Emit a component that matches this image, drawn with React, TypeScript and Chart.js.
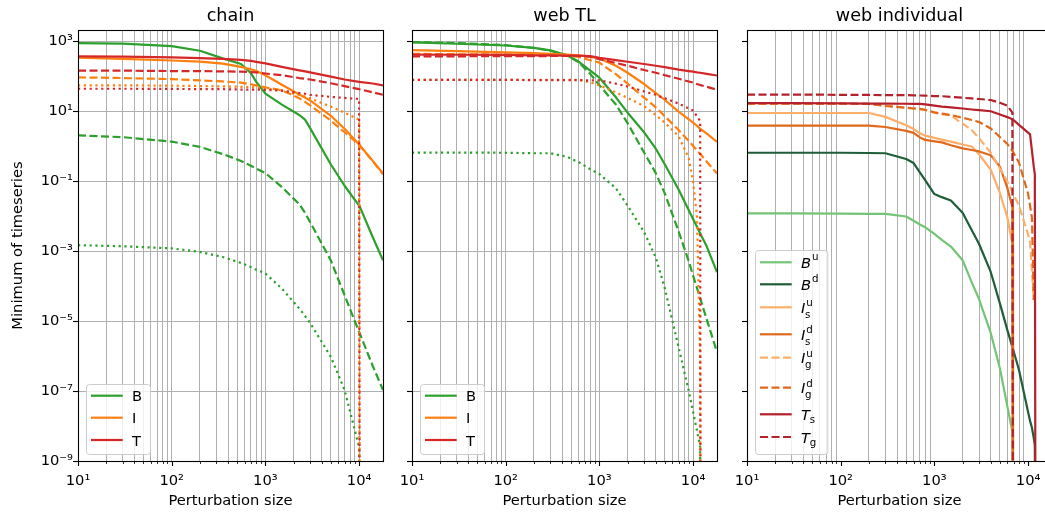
import React, { useEffect, useRef } from 'react';
import { Chart, registerables } from 'chart.js';

Chart.register(...registerables);

const FONT_FAMILY = '"DejaVu Sans", "Liberation Sans", sans-serif';

// ---------------- axes / tick labels ----------------
const X_MIN = 10;
const X_MAX = 18000;
const Y_MIN = 1e-9;
const Y_MAX = 2100;
const xMajorTicks = [10, 100, 1000, 10000];
const xTickLabels = ['10¹', '10²', '10³', '10⁴'];
const xMinorTicks = [20, 30, 40, 50, 60, 70, 80, 90, 200, 300, 400, 500, 600, 700, 800, 900, 2000, 3000, 4000, 5000, 6000, 7000, 8000, 9000];
const yMajorTicks = [1e-9, 1e-7, 1e-5, 1e-3, 1e-1, 1e1, 1e3];
const yTickLabels = ['10⁻⁹', '10⁻⁷', '10⁻⁵', '10⁻³', '10⁻¹', '10¹', '10³'];
const panelTitles = ['chain', 'web TL', 'web individual'];
const xAxisTitle = 'Perturbation size';
const yAxisTitle = 'Minimum of timeseries';

// ---------------- panel 1: chain ----------------
const chainX = [10, 30, 100, 200, 350, 550, 700, 800, 1000, 1500, 2300, 2650, 3000, 5000, 7000, 10000, 10150, 14000, 18000];
const chainBSolid = [891, 861, 724, 537, 324, 224, 123, 69, 32, 15.5, 7.8, 5.75, 3.3, 0.30, 0.074, 0.020, 0.019, 0.0025, 0.00055];
const chainBDashed = [2.04, 1.82, 1.35, 0.955, 0.60, 0.38, 0.275, 0.229, 0.17, 0.068, 0.022, 0.0125, 0.0068, 5.4e-4, 5.5e-5, 4.9e-6, 4.5e-6, 5.2e-7, 1.07e-7];
const chainBDotted = [1.48e-3, 1.38e-3, 1.2e-3, 9.5e-4, 6.8e-4, 4.6e-4, 3.5e-4, 2.95e-4, 2.3e-4, 8.5e-5, 2.3e-5, 1.4e-5, 8.9e-6, 9.5e-7, 1.07e-7, 2.5e-9, 1e-12, null, null];
const chainISolid = [339, 316, 282, 263, 229, 186, 158, 141, 107, 57.5, 30.2, 24.5, 20.4, 7.41, 3.16, 1.12, 1.07, 0.38, 0.166];
const chainIDashed = [93, 89, 83, 76, 71, 66, 59, 55, 48, 40, 23.4, 18.6, 14.8, 5.37, 2.51, 1.10, 1.05, 0.37, 0.158];
const chainIDotted = [55, 55, 54, 52.5, 51.3, 50, 49, 47.9, 45.7, 38.9, 29.5, 26.3, 23.4, 13.5, 9.1, 5.75, 1e-12, null, null];
const chainTSolid = [372, 363, 347, 331, 316, 295, 275, 257, 234, 186, 148, 138, 129, 98, 81, 69, 69, 62, 55];
const chainTDashed = [145, 145, 141, 141, 138, 135, 132, 129, 120, 107, 89, 85, 81, 63, 52.5, 42.7, 42.5, 34.7, 29.5];
const chainTDotted = [44, 44, 43.6, 42.7, 42.7, 41.7, 41.7, 41.7, 40.7, 38.9, 33.1, 31.6, 29.5, 25.7, 24, 22.4, 1e-12, null, null];

// ---------------- panel 2: web TL ----------------
const webX = [10, 30, 100, 200, 300, 450, 600, 800, 1000, 1500, 2000, 3000, 4000, 5000, 7000, 9000, 10000, 11000, 11900, 12000, 14000, 18000];
const webBSolid = [933, 851, 759, 646, 550, 398, 263, 145, 91, 25, 9.1, 2.5, 0.85, 0.30, 0.058, 0.0148, 0.0083, 0.0050, 0.0032, 0.0031, 0.00135, 0.00025];
const webBDashed = [955, 891, 776, 646, 537, 398, 251, 117, 56, 15.5, 4.57, 0.66, 0.17, 0.044, 0.0037, 5.1e-4, 2.0e-4, 8.9e-5, 4.5e-5, 4.2e-5, 1.1e-5, 1.3e-6];
const webBDotted = [0.66, 0.66, 0.65, 0.63, 0.63, 0.50, 0.35, 0.22, 0.16, 0.063, 0.020, 0.0035, 6.6e-4, 8.5e-5, 1.8e-6, 1.0e-7, 2.5e-8, 7.4e-9, 2.5e-9, 1e-12, null, null];
const webISolid = [562, 525, 479, 457, 437, 417, 398, 355, 324, 200, 126, 60, 33, 21, 9.8, 5.9, 4.7, 3.8, 3.16, 3.16, 2.29, 1.32];
const webIDashed = [437, 427, 417, 407, 407, 398, 355, 288, 245, 115, 62, 24.5, 12.9, 7.2, 2.9, 1.41, 1.02, 0.76, 0.60, 0.59, 0.36, 0.166];
const webIDotted = [79, 79, 79, 79, 79, 79, 79, 66, 55, 34.7, 24, 14.1, 7.8, 4.7, 1.95, 0.45, 0.095, 0.01, 8e-7, 1e-12, null, null];
const webTSolid = [417, 412, 407, 398, 394, 389, 389, 380, 339, 288, 260, 224, 200, 182, 155, 141, 135, 129, 126, 126, 117, 105];
const webTDashed = [372, 372, 376, 376, 380, 380, 380, 363, 309, 240, 200, 151, 126, 107, 85, 71, 66, 60, 56, 56, 50, 41];
const webTDotted = [79, 79, 79, 77.6, 77.6, 77.6, 77.6, 76, 76, 61.7, 51, 37, 29.5, 23.4, 16.6, 12, 10.5, 7.2, 5.25, 1e-12, null, null];

// ---------------- panel 3: web individual ----------------
const indX = [10, 30, 100, 200, 300, 500, 600, 700, 800, 1000, 1200, 1500, 2000, 2500, 3000, 4000, 5000, 6000, 6800, 6900, 8000, 10000, 10500, 11000, 11500, 11800, 12000];
const indBu = [0.012, 0.012, 0.0118, 0.0117, 0.0116, 0.0098, 0.0074, 0.0058, 0.0048, 0.0031, 0.0021, 0.00135, 5.5e-4, 1.3e-4, 4.2e-5, 4.5e-6, 4.5e-7, 3.7e-8, 6.8e-9, 1e-12, null, null, null, null, null, null, null];
const indBd = [0.65, 0.65, 0.65, 0.64, 0.63, 0.43, 0.33, 0.18, 0.105, 0.043, 0.035, 0.028, 0.0126, 0.004, 0.0016, 2.5e-4, 3.2e-5, 5.6e-6, 1.8e-6, 1.6e-6, 4e-7, 2.5e-8, 1.4e-8, 8.9e-9, 4.5e-9, 2.8e-9, 1e-12];
const indIsu = [8.9, 8.9, 8.9, 8.9, 6.9, 4.0, 3.1, 2.34, 2.0, 1.74, 1.55, 1.35, 1.12, 0.98, 0.59, 0.21, 0.046, 0.0095, 0.0016, 1e-12, null, null, null, null, null, null, null];
const indIsd = [3.9, 3.9, 3.9, 3.9, 3.55, 2.75, 2.4, 1.78, 1.51, 1.38, 1.29, 1.07, 0.87, 0.78, 0.71, 0.55, 0.26, 0.065, 0.018, 1e-12, null, null, null, null, null, null, null];
const indIgu = [16.6, 16.6, 16.6, 16.2, 14.5, 12.6, 12, 11.5, 10.7, 9.1, 8.3, 7.6, 4.4, 2.9, 1.7, 0.65, 0.23, 0.098, 0.05, 0.045, 0.02, 0.003, 0.0018, 2.8e-4, 4e-5, null, null];
const indIgd = [16.6, 16.6, 16.6, 16.2, 14.1, 12.6, 12, 11.7, 11, 9.3, 8.5, 7.8, 6.5, 5.6, 4.9, 3.2, 1.84, 1.17, 0.74, 0.69, 0.34, 0.044, 0.02, 0.0089, 4e-5, null, null];
const indTs = [17, 17, 16.8, 16.6, 16.6, 16.4, 16.2, 16.2, 15.8, 14.5, 13.5, 12.9, 12, 11.2, 10.7, 10, 8.1, 6.8, 5.9, 5.75, 4.07, 2.45, 2.19, 0.74, 0.26, 0.16, 1e-12];
const indTg = [30, 30, 29.5, 29.2, 29, 28.8, 28.5, 28.2, 27.9, 27.2, 26.9, 25.7, 24.3, 23.2, 22.4, 20.9, 17.4, 14.5, 9.1, 1e-12, null, null, null, null, null, null, null];

// ---------------- styles ----------------
const GREEN = '#2ca02c';
const ORANGE = '#ff7f0e';
const RED = '#d62728';
const C_BU = '#74c476';
const C_BD = '#1f5e38';
const C_ISU = '#fdae6b';
const C_ISD = '#e0691c';
const C_T = '#b5202a';
const SOLID: number[] = [];
const DASHED = [8, 3.5];
const DOTTED = [2.2, 3.6];
const LINE_W = 2.2;

const simpleLegend = [
  { base: 'B', color: GREEN, dash: SOLID },
  { base: 'I', color: ORANGE, dash: SOLID },
  { base: 'T', color: RED, dash: SOLID },
];
const simpleLegendRows = [11.7, 33.7, 56];

const richLegend = [
  { base: 'B', sup: 'u', color: C_BU, dash: SOLID },
  { base: 'B', sup: 'd', color: C_BD, dash: SOLID },
  { base: 'I', sub: 's', sup: 'u', color: C_ISU, dash: SOLID },
  { base: 'I', sub: 's', sup: 'd', color: C_ISD, dash: SOLID },
  { base: 'I', sub: 'g', sup: 'u', color: C_ISU, dash: DASHED },
  { base: 'I', sub: 'g', sup: 'd', color: C_ISD, dash: DASHED },
  { base: 'T', sub: 's', color: C_T, dash: SOLID },
  { base: 'T', sub: 'g', color: C_T, dash: DASHED },
];
const richLegendRows = [12.3, 34.3, 57.3, 84.3, 107.7, 137.7, 164.3, 187];

const PANELS = [
  {
    key: 'chain', title: panelTitles[0], left: 0, width: 400, yAxisWidth: 78, rightPad: 17,
    showYLabels: true, gridMode: 'both', x: chainX,
    legend: { entries: simpleLegend, rows: simpleLegendRows, w: 64, h: 70, rich: false },
    series: [
      { values: chainBSolid, color: GREEN, dash: SOLID },
      { values: chainBDashed, color: GREEN, dash: DASHED },
      { values: chainBDotted, color: GREEN, dash: DOTTED },
      { values: chainISolid, color: ORANGE, dash: SOLID },
      { values: chainIDashed, color: ORANGE, dash: DASHED },
      { values: chainIDotted, color: ORANGE, dash: DOTTED },
      { values: chainTSolid, color: RED, dash: SOLID },
      { values: chainTDashed, color: RED, dash: DASHED },
      { values: chainTDotted, color: RED, dash: DOTTED },
    ],
  },
  {
    key: 'web', title: panelTitles[1], left: 385, width: 345, yAxisWidth: 27, rightPad: 13,
    showYLabels: false, gridMode: 'both', x: webX,
    legend: { entries: simpleLegend, rows: simpleLegendRows, w: 64, h: 70, rich: false },
    series: [
      { values: webBSolid, color: GREEN, dash: SOLID },
      { values: webBDashed, color: GREEN, dash: DASHED },
      { values: webBDotted, color: GREEN, dash: DOTTED },
      { values: webISolid, color: ORANGE, dash: SOLID },
      { values: webIDashed, color: ORANGE, dash: DASHED },
      { values: webIDotted, color: ORANGE, dash: DOTTED },
      { values: webTSolid, color: RED, dash: SOLID },
      { values: webTDashed, color: RED, dash: DASHED },
      { values: webTDotted, color: RED, dash: DOTTED },
    ],
  },
  {
    key: 'ind', title: panelTitles[2], left: 720, width: 350, yAxisWidth: 27, rightPad: 18,
    showYLabels: false, gridMode: 'minorX', x: indX,
    legend: { entries: richLegend, rows: richLegendRows, w: 72.3, h: 204, rich: true },
    series: [
      { values: indBu, color: C_BU, dash: SOLID },
      { values: indBd, color: C_BD, dash: SOLID },
      { values: indIsu, color: C_ISU, dash: SOLID },
      { values: indIsd, color: C_ISD, dash: SOLID },
      { values: indIgu, color: C_ISU, dash: DASHED },
      { values: indIgd, color: C_ISD, dash: DASHED },
      { values: indTs, color: C_T, dash: SOLID },
      { values: indTg, color: C_T, dash: DASHED },
    ],
  },
];

const isDecade = (v: number) => Math.abs(Math.log10(v) - Math.round(Math.log10(v))) < 1e-9;

function roundRectPath(ctx: any, x: number, y: number, w: number, h: number, r: number) {
  ctx.beginPath();
  ctx.moveTo(x + r, y);
  ctx.lineTo(x + w - r, y);
  ctx.arcTo(x + w, y, x + w, y + r, r);
  ctx.lineTo(x + w, y + h - r);
  ctx.arcTo(x + w, y + h, x + w - r, y + h, r);
  ctx.lineTo(x + r, y + h);
  ctx.arcTo(x, y + h, x, y + h - r, r);
  ctx.lineTo(x, y + r);
  ctx.arcTo(x, y, x + r, y, r);
  ctx.closePath();
}

function makeDecorPlugin(panel: any) {
  return {
    id: 'mplDecor_' + panel.key,
    afterDraw(chart: any) {
      const { ctx, chartArea: a, scales } = chart;
      const xs = scales.x;
      const ys = scales.y;
      ctx.save();
      ctx.setLineDash([]);
      ctx.strokeStyle = '#000';
      // x tick marks
      const xt = [...xMajorTicks, ...xMinorTicks];
      for (const v of xt) {
        const px = Math.round(xs.getPixelForValue(v)) + 0.5;
        if (px < a.left - 1 || px > a.right + 1) continue;
        const major = isDecade(v);
        ctx.lineWidth = major ? 1.1 : 0.8;
        ctx.beginPath();
        ctx.moveTo(px, a.bottom);
        ctx.lineTo(px, a.bottom + (major ? 5 : 3));
        ctx.stroke();
      }
      // y tick marks
      for (const v of yMajorTicks) {
        const py = Math.round(ys.getPixelForValue(v)) + 0.5;
        ctx.lineWidth = 1.1;
        ctx.beginPath();
        ctx.moveTo(a.left, py);
        ctx.lineTo(a.left - 5, py);
        ctx.stroke();
      }
      // frame
      ctx.lineWidth = 1.1;
      ctx.strokeRect(Math.round(a.left) + 0.5, Math.round(a.top) + 0.5, Math.round(a.right - a.left), Math.round(a.bottom - a.top));

      // legend
      const lg = panel.legend;
      const bx = a.left + 8;
      const by = a.bottom - 7 - lg.h;
      roundRectPath(ctx, bx + 0.5, by + 0.5, lg.w, lg.h, 3);
      ctx.fillStyle = 'rgba(255,255,255,0.8)';
      ctx.fill();
      ctx.strokeStyle = '#cccccc';
      ctx.lineWidth = 1;
      ctx.stroke();
      lg.entries.forEach((e: any, i: number) => {
        const y = by + lg.rows[i];
        ctx.strokeStyle = e.color;
        ctx.lineWidth = LINE_W;
        ctx.lineCap = 'butt';
        ctx.setLineDash(e.dash);
        ctx.beginPath();
        ctx.moveTo(bx + 5, y);
        ctx.lineTo(bx + 36.7, y);
        ctx.stroke();
        ctx.setLineDash([]);
        ctx.fillStyle = '#000';
        ctx.textBaseline = 'alphabetic';
        ctx.textAlign = 'left';
        const tx = bx + 46;
        const base = y + 5.5;
        if (!lg.rich) {
          ctx.font = `14.7px ${FONT_FAMILY}`;
          ctx.fillText(e.base, tx, base);
        } else {
          ctx.font = `italic 14.7px ${FONT_FAMILY}`;
          ctx.fillText(e.base, tx, base);
          const w = ctx.measureText(e.base).width;
          ctx.font = `10.3px ${FONT_FAMILY}`;
          if (e.sup) ctx.fillText(e.sup, tx + w + 0.8, base - (e.sub ? 6.6 : 8));
          if (e.sub) ctx.fillText(e.sub, tx + w - 0.3, base + (e.sup ? 5 : 3.3));
        }
      });
      ctx.restore();
    },
  };
}

function makeChart(canvas: HTMLCanvasElement, panel: any) {
  const n = panel.series.length;
  const datasets = panel.series.map((s: any, i: number) => ({
    data: panel.x.map((x: number, j: number) => ({ x, y: s.values[j] })),
    borderColor: s.color,
    backgroundColor: s.color,
    borderWidth: LINE_W,
    borderDash: s.dash,
    borderCapStyle: 'butt',
    borderJoinStyle: 'round',
    pointRadius: 0,
    pointHoverRadius: 0,
    tension: 0,
    fill: false,
    spanGaps: false,
    order: n - i,
  }));
  const allXTicks = [...xMajorTicks, ...xMinorTicks].sort((p, q) => p - q);
  const tickFont = { family: FONT_FAMILY, size: 14.7 };
  const minorOnly = panel.gridMode === 'minorX';
  return new Chart(canvas, {
    type: 'line',
    data: { datasets },
    options: {
      animation: false,
      responsive: false,
      devicePixelRatio: 1,
      events: [],
      layout: { padding: { left: 0, right: panel.rightPad, top: 0, bottom: 0 } },
      plugins: {
        legend: { display: false },
        tooltip: { enabled: false },
        title: {
          display: true,
          text: panel.title,
          fullSize: false,
          color: '#000',
          font: { family: FONT_FAMILY, size: 17.6, weight: 'normal' },
          padding: { top: 5.5, bottom: 3.4 },
        },
      },
      scales: {
        x: {
          type: 'logarithmic',
          position: 'bottom',
          min: X_MIN,
          max: X_MAX,
          afterBuildTicks: (scale: any) => {
            scale.ticks = allXTicks.map((v) => ({ value: v }));
          },
          afterFit: (scale: any) => {
            scale.height = 51;
          },
          ticks: {
            autoSkip: false,
            maxRotation: 0,
            minRotation: 0,
            padding: 11,
            color: '#000',
            font: tickFont,
            callback: (v: any) => {
              const k = xMajorTicks.indexOf(Number(v));
              return k >= 0 ? xTickLabels[k] : '';
            },
          },
          grid: {
            display: true,
            drawTicks: false,
            lineWidth: 1,
            color: (c: any) => {
              if (!c.tick) return '#b0b0b0';
              if (minorOnly && isDecade(c.tick.value)) return 'rgba(0,0,0,0)';
              return '#b0b0b0';
            },
          },
          border: { display: false },
          title: {
            display: true,
            text: xAxisTitle,
            color: '#000',
            font: tickFont,
            padding: { top: 0, bottom: 2 },
          },
        },
        y: {
          type: 'logarithmic',
          position: 'left',
          min: Y_MIN,
          max: Y_MAX,
          afterBuildTicks: (scale: any) => {
            scale.ticks = yMajorTicks.map((v) => ({ value: v }));
          },
          afterFit: (scale: any) => {
            scale.width = panel.yAxisWidth;
          },
          ticks: {
            display: panel.showYLabels,
            autoSkip: false,
            padding: 5,
            color: '#000',
            font: tickFont,
            callback: (v: any) => {
              const k = yMajorTicks.indexOf(Number(v));
              return k >= 0 ? yTickLabels[k] : '';
            },
          },
          grid: {
            display: !minorOnly,
            drawTicks: false,
            lineWidth: 1,
            color: '#b0b0b0',
          },
          border: { display: false },
          title: {
            display: panel.showYLabels,
            text: yAxisTitle,
            color: '#000',
            font: tickFont,
            padding: { top: 9.2, bottom: 0 },
          },
        },
      },
    } as any,
    plugins: [makeDecorPlugin(panel)],
  } as any);
}

export default function App() {
  const r1 = useRef<HTMLCanvasElement>(null);
  const r2 = useRef<HTMLCanvasElement>(null);
  const r3 = useRef<HTMLCanvasElement>(null);
  useEffect(() => {
    const refs = [r1, r2, r3];
    const charts = PANELS.map((p, i) => makeChart(refs[i].current as HTMLCanvasElement, p));
    return () => charts.forEach((c) => c.destroy());
  }, []);
  const refs = [r1, r2, r3];
  return (
    <div style={{ position: 'absolute', left: 0, top: 0, width: 1045, height: 512, overflow: 'hidden', background: '#fff' }}>
      {PANELS.map((p, i) => (
        <canvas
          key={p.key}
          ref={refs[i]}
          width={p.width}
          height={512}
          style={{ position: 'absolute', left: p.left, top: 0, width: p.width, height: 512 }}
        />
      ))}
    </div>
  );
}
